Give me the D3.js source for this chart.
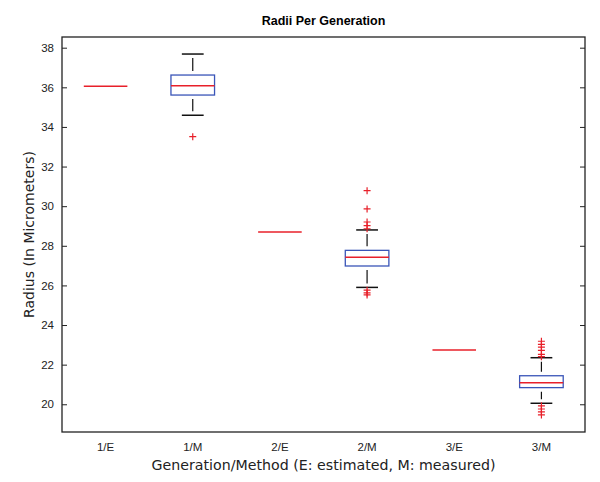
<!DOCTYPE html>
<html>
<head>
<meta charset="utf-8">
<script src="https://cdn.jsdelivr.net/npm/d3@7"></script>
<style>
  html, body { margin: 0; padding: 0; background: #fff; }
  svg { display: block; }
</style>
</head>
<body>
<svg id="chart" width="600" height="482"></svg>
<script>
// ---- data ----
const categories = ["1/E", "1/M", "2/E", "2/M", "3/E", "3/M"];
// box statistics (null whiskers => single estimated value)
const lowerWhisker = [null, 34.59, null, 25.90, null, 20.05];
const q1Values     = [36.05, 35.61, 28.70, 26.98, 22.74, 20.84];
const medians      = [36.05, 36.08, 28.70, 27.42, 22.74, 21.09];
const q3Values     = [36.05, 36.62, 28.70, 27.77, 22.74, 21.44];
const upperWhisker = [null, 37.68, null, 28.80, null, 22.35];
const outliers = [
  [],
  [33.51],
  [],
  [30.78, 29.86, 29.20, 29.02, 28.86, 25.76, 25.62, 25.52],
  [],
  [23.18, 23.02, 22.88, 22.72, 22.52, 22.40, 19.92, 19.76, 19.62, 19.46]
];
const yTicks = [20, 22, 24, 26, 28, 30, 32, 34, 36, 38];
const titleText = "Radii Per Generation";
const xLabel = "Generation/Method (E: estimated, M: measured)";
const yLabel = "Radius (In Micrometers)";

// ---- layout ----
const margin = { left: 62, right: 15, top: 37, bottom: 50 };
const W = 600, H = 482;
const svg = d3.select("#chart");
const plotW = W - margin.left - margin.right;
const plotH = H - margin.top - margin.bottom;

const x = d3.scaleBand().domain(categories).range([margin.left, margin.left + plotW]).paddingInner(0).paddingOuter(0);
const y = d3.scaleLinear().domain([18.6, 38.54]).range([margin.top + plotH, margin.top]);

const boxW = x.bandwidth() * 0.5;
const capW = boxW * 0.5;
const FONT = "'Liberation Sans', Arial, sans-serif";

// title
svg.append("text")
  .attr("x", margin.left + plotW / 2).attr("y", 25)
  .attr("text-anchor", "middle")
  .attr("font-family", FONT).attr("font-weight", "bold").attr("font-size", 12.5)
  .text(titleText);

// y axis left (ticks inward)
const yAxisL = d3.axisLeft(y).tickValues(yTicks).tickSize(-5).tickPadding(8);
const gL = svg.append("g").attr("transform", `translate(${margin.left},0)`).call(yAxisL);
gL.select(".domain").remove();
gL.selectAll("text").attr("font-family", FONT).attr("font-size", 11.5).attr("fill", "#222");
gL.selectAll("line").attr("stroke", "#222");

// y axis right (ticks inward, no labels)
const yAxisR = d3.axisRight(y).tickValues(yTicks).tickSize(-5).tickFormat("");
const gR = svg.append("g").attr("transform", `translate(${margin.left + plotW},0)`).call(yAxisR);
gR.select(".domain").remove();
gR.selectAll("line").attr("stroke", "#222");

// x axis labels (no tick marks)
const xAxis = d3.axisBottom(x).tickSize(0).tickPadding(11);
const gX = svg.append("g").attr("transform", `translate(0,${margin.top + plotH})`).call(xAxis);
gX.select(".domain").remove();
gX.selectAll("text").attr("font-family", FONT).attr("font-size", 11.5).attr("fill", "#222");

// frame
svg.append("rect")
  .attr("x", margin.left).attr("y", margin.top)
  .attr("width", plotW).attr("height", plotH)
  .attr("fill", "none").attr("stroke", "#222").attr("stroke-width", 1.3);

// boxes
const groups = svg.append("g").selectAll("g").data(categories).join("g");

groups.each(function(cat, i) {
  const g = d3.select(this);
  const cx = x(cat) + x.bandwidth() / 2;
  if (upperWhisker[i] !== null) {
    [[q3Values[i], upperWhisker[i]], [q1Values[i], lowerWhisker[i]]].forEach(([from, to]) => {
      const y0 = y(from), y1 = y(to);
      const len = Math.abs(y1 - y0);
      const gap = 4;
      g.append("line")
        .attr("x1", cx).attr("x2", cx).attr("y1", y0).attr("y2", y1)
        .attr("stroke", "#111").attr("stroke-width", 1.2)
        .attr("stroke-dasharray", `0 ${gap} ${Math.max(len - 2 * gap, 1)} ${gap + 10}`);
      g.append("line")
        .attr("x1", cx - capW / 2).attr("x2", cx + capW / 2)
        .attr("y1", y1).attr("y2", y1)
        .attr("stroke", "#111").attr("stroke-width", 1.5);
    });
    g.append("rect")
      .attr("x", cx - boxW / 2).attr("width", boxW)
      .attr("y", y(q3Values[i])).attr("height", y(q1Values[i]) - y(q3Values[i]))
      .attr("fill", "none").attr("stroke", "#3a55b8").attr("stroke-width", 1.3);
  }
  g.append("line")
    .attr("x1", cx - boxW / 2).attr("x2", cx + boxW / 2)
    .attr("y1", y(medians[i])).attr("y2", y(medians[i]))
    .attr("stroke", "#e8202a").attr("stroke-width", 1.5);
  outliers[i].forEach(v => {
    const yy = y(v), s = 3.5;
    g.append("path")
      .attr("d", `M${cx - s},${yy}H${cx + s}M${cx},${yy - s}V${yy + s}`)
      .attr("stroke", "#e8202a").attr("stroke-width", 1.2).attr("fill", "none");
  });
});

// axis titles
svg.append("text")
  .attr("x", margin.left + plotW / 2).attr("y", 470)
  .attr("text-anchor", "middle")
  .attr("font-family", "'DejaVu Sans', sans-serif").attr("font-size", 14.2).attr("fill", "#222")
  .text(xLabel);

svg.append("text")
  .attr("transform", `translate(34,${margin.top + plotH / 2}) rotate(-90)`)
  .attr("text-anchor", "middle")
  .attr("font-family", "'DejaVu Sans', sans-serif").attr("font-size", 14).attr("fill", "#222")
  .text(yLabel);
</script>
</body>
</html>
